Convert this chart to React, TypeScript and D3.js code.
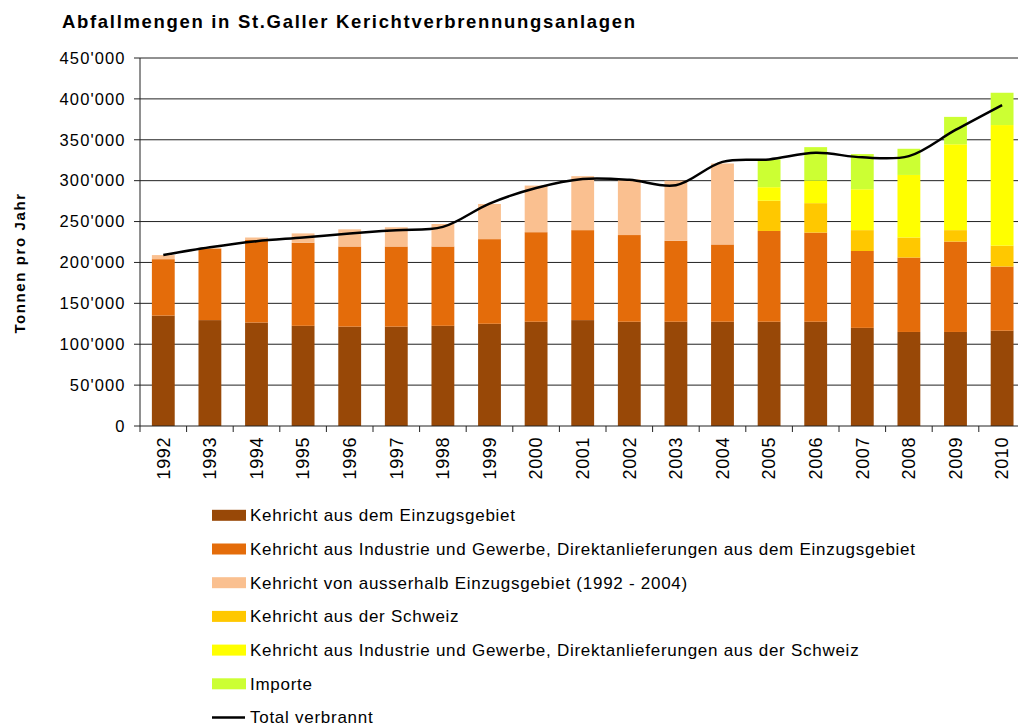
import React from "react";
import * as d3 from "d3";

// Werte in Tausend Tonnen
const years = ["1992", "1993", "1994", "1995", "1996", "1997", "1998", "1999", "2000", "2001", "2002", "2003", "2004", "2005", "2006", "2007", "2008", "2009", "2010"];
const einzugsgebiet = [135, 129.5, 126.5, 122.5, 121.5, 121.5, 122.5, 125, 127.5, 129.5, 127.5, 127.5, 127.5, 127.5, 127.5, 120, 115, 115, 116.5];
const industrieEinzug = [69, 87.5, 101, 101.5, 98, 98, 97, 103.5, 109.5, 110, 106, 99, 94.5, 111, 109, 94, 91, 110.5, 78.5];
const ausserhalb = [5, 1, 3, 11.5, 21, 23.5, 27.5, 43, 57, 66, 68, 73.5, 99, 0, 0, 0, 0, 0, 0];
const schweiz = [0, 0, 0, 0, 0, 0, 0, 0, 0, 0, 0, 0, 0, 37, 36, 25.5, 24.5, 14, 25.5];
const industrieSchweiz = [0, 0, 0, 0, 0, 0, 0, 0, 0, 0, 0, 0, 0, 16.5, 27.5, 50, 76.5, 105, 147.5];
const importe = [0, 0, 0, 0, 0, 0, 0, 0, 0, 0, 0, 0, 0, 34, 41, 43, 32, 33.5, 39.5];
const totalVerbrannt = [209, 218.5, 226, 230.5, 235.5, 239.5, 243.5, 272, 291, 302, 301, 294.5, 323, 326, 334, 328.5, 330, 362, 392.5];

const seriesNames = [
  "Kehricht aus dem Einzugsgebiet",
  "Kehricht aus Industrie und Gewerbe, Direktanlieferungen aus dem Einzugsgebiet",
  "Kehricht von ausserhalb Einzugsgebiet (1992 - 2004)",
  "Kehricht aus der Schweiz",
  "Kehricht aus Industrie und Gewerbe, Direktanlieferungen aus der Schweiz",
  "Importe",
];
const lineName = "Total verbrannt";
const colors = ["#984807", "#E46C0A", "#FAC090", "#FFC800", "#FFFF00", "#CCFF33"];
const seriesValues = [einzugsgebiet, industrieEinzug, ausserhalb, schweiz, industrieSchweiz, importe];

const W = 1018;
const H = 726;
const plot = { left: 140, top: 58, bottom: 426, right: 140 + 19 * 46.6 };
const font = "'Liberation Sans', Arial, sans-serif";

const fmt = d3.formatLocale({ decimal: ".", thousands: "'", grouping: [3], currency: ["", ""] }).format(",");

export default function App() {
  const x = d3.scaleBand<string>().domain(years).range([plot.left, plot.right]).paddingInner(0.51).paddingOuter(0.255);
  const y = d3.scaleLinear().domain([0, 450000]).range([plot.bottom, plot.top]);
  const step = x.step();

  const rows = years.map((yr, i) => {
    const r: any = { year: yr };
    seriesValues.forEach((s, k) => (r["s" + k] = s[i] * 1000));
    return r;
  });
  const stacked = d3.stack<any>().keys(seriesValues.map((_, k) => "s" + k))(rows);

  const line = d3
    .line<number>()
    .x((_, i) => (x(years[i]) as number) + x.bandwidth() / 2)
    .y((d) => y(d * 1000))
    .curve(d3.curveCatmullRom.alpha(0.5));

  const ticks = d3.range(0, 450001, 50000);
  const legendY = (k: number) => 515.3 + k * 33.7;

  return (
    <svg width={W} height={H} style={{ position: "absolute", left: 0, top: 0, background: "#fff" }}>
      <text x={62} y={28} fontFamily={font} fontSize={18.5} fontWeight="bold" letterSpacing={1.68} fill="#000">
        Abfallmengen in St.Galler Kerichtverbrennungsanlagen
      </text>

      {/* Gitterlinien + y-Achse Beschriftung */}
      {ticks.map((t) => (
        <g key={t}>
          {t > 0 && <line x1={plot.left} x2={W} y1={y(t)} y2={y(t)} stroke="#222" strokeWidth={1} />}
          <line x1={plot.left - 6} x2={plot.left} y1={y(t)} y2={y(t)} stroke="#222" />
          <text x={125.5} y={y(t)} dy="0.35em" textAnchor="end" fontFamily={font} fontSize={16.5} letterSpacing={1.1} fill="#000">
            {fmt(t)}
          </text>
        </g>
      ))}

      {/* Balken */}
      {stacked.map((layer, k) => (
        <g key={k} fill={colors[k]}>
          {layer.map((d, i) =>
            d[1] - d[0] > 0 ? (
              <rect key={i} x={x(years[i])} y={y(d[1])} width={x.bandwidth()} height={y(d[0]) - y(d[1])} />
            ) : null
          )}
        </g>
      ))}

      {/* Achsen */}
      <line x1={plot.left} x2={plot.left} y1={plot.top} y2={plot.bottom} stroke="#222" />
      <line x1={plot.left} x2={W} y1={plot.bottom} y2={plot.bottom} stroke="#222" />
      {d3.range(0, years.length + 1).map((i) => (
        <line key={i} x1={plot.left + i * step} x2={plot.left + i * step} y1={plot.bottom} y2={plot.bottom + 6} stroke="#222" />
      ))}
      {years.map((yr) => {
        const cx = (x(yr) as number) + x.bandwidth() / 2;
        return (
          <text key={yr} transform={`translate(${cx},${plot.bottom + 11}) rotate(-90)`} dy="0.35em" textAnchor="end" fontFamily={font} fontSize={18} letterSpacing={0.6} fill="#000">
            {yr}
          </text>
        );
      })}

      <path d={line(totalVerbrannt) || ""} fill="none" stroke="#000" strokeWidth={2.5} />

      <text transform={`translate(20,263) rotate(-90)`} dy="0.35em" textAnchor="middle" fontFamily={font} fontSize={15} fontWeight="bold" letterSpacing={1.6} fill="#000">
        Tonnen pro Jahr
      </text>

      {/* Legende */}
      {seriesNames.map((name, k) => (
        <g key={name}>
          <rect x={212} y={legendY(k) - 5.5} width={34} height={11} fill={colors[k]} />
          <text x={250} y={legendY(k)} dy="0.35em" fontFamily={font} fontSize={17} letterSpacing={0.73} fill="#000">
            {name}
          </text>
        </g>
      ))}
      <line x1={212} x2={245} y1={legendY(6)} y2={legendY(6)} stroke="#000" strokeWidth={2.5} />
      <text x={250} y={legendY(6)} dy="0.35em" fontFamily={font} fontSize={17} letterSpacing={0.73} fill="#000">
        {lineName}
      </text>
    </svg>
  );
}
